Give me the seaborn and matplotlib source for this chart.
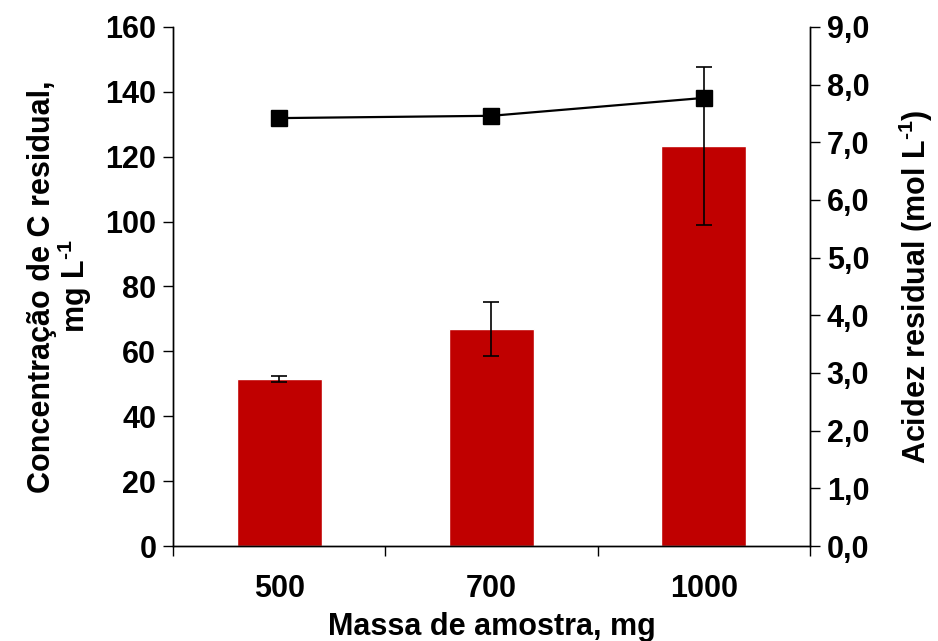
import matplotlib
matplotlib.use('Agg')
import matplotlib.pyplot as plt
import seaborn as sns
import pandas as pd
from matplotlib.ticker import FixedLocator, FuncFormatter

# data
massas = ['500', '700', '1000']
conc_c = [51.5, 66.9, 123.3]      # mg L-1 (bars)
conc_err = [0.9, 8.3, 24.3]
acidez = [7.42, 7.46, 7.77]       # mol L-1 (line, right axis)

df = pd.DataFrame({'massa': massas, 'conc': conc_c, 'acidez': acidez})

sns.set_style('white')
plt.rcParams['font.family'] = ['Liberation Sans', 'DejaVu Sans']
plt.rcParams['font.weight'] = 'bold'
plt.rcParams['mathtext.fontset'] = 'custom'
plt.rcParams['mathtext.rm'] = 'Liberation Sans:bold'
plt.rcParams['mathtext.bf'] = 'Liberation Sans:bold'
plt.rcParams['mathtext.default'] = 'rm'
for k in ('text.color', 'axes.labelcolor', 'xtick.color', 'ytick.color'):
    plt.rcParams[k] = 'black'

FS = 22

fig = plt.figure(figsize=(9.38, 6.41), dpi=100)
ax = fig.add_axes([0.1844, 0.1482, 0.8635 - 0.1844, 0.9579 - 0.1482])

sns.barplot(data=df, x='massa', y='conc', color='#C00000', width=0.4,
            saturation=1, ax=ax, errorbar=None)
ax.errorbar(range(len(massas)), conc_c, yerr=conc_err, fmt='none',
            ecolor='black', elinewidth=1.2, capsize=6, capthick=1.2, zorder=5)

ax2 = ax.twinx()
ax2.plot(range(len(massas)), acidez, color='black', lw=1.6,
         marker='s', markersize=11, zorder=6)

ax.set_xlim(-0.5, 2.5)
ax.set_ylim(0, 160)
ax2.set_ylim(0, 9)
ax.set_yticks(range(0, 161, 20))
ax2.set_yticks(range(0, 10))
ax2.yaxis.set_major_formatter(FuncFormatter(lambda v, p: f'{v:.1f}'.replace('.', ',')))

ax.xaxis.set_minor_locator(FixedLocator([-0.5, 0.5, 1.5, 2.5]))
ax.tick_params(axis='x', which='major', length=0, pad=20, labelsize=FS)
ax.tick_params(axis='x', which='minor', length=7, width=1, direction='out', bottom=True)
ax.tick_params(axis='y', length=7, width=1, direction='out', left=True, labelsize=FS, pad=5)
ax2.tick_params(axis='y', length=7, width=1, direction='out', right=True, labelsize=FS, pad=5)

for a in (ax, ax2):
    a.spines['top'].set_visible(False)
    for s in ('left', 'right', 'bottom'):
        a.spines[s].set_color('black')
        a.spines[s].set_linewidth(1)

ax.set_xlabel('Massa de amostra, mg', fontsize=FS, fontweight='bold', labelpad=6)
ax.set_ylabel('Concentração de C residual,\nmg L$^{\\text{-1}}$', fontsize=FS,
              fontweight='bold', linespacing=0.95, labelpad=8)
ax2.set_ylabel('Acidez residual (mol L$^{\\text{-1}}$)', fontsize=FS,
               fontweight='bold', labelpad=20)

for lab in ax.get_xticklabels() + ax.get_yticklabels() + ax2.get_yticklabels():
    lab.set_fontweight('bold')

fig.savefig('out.png', dpi=100)
